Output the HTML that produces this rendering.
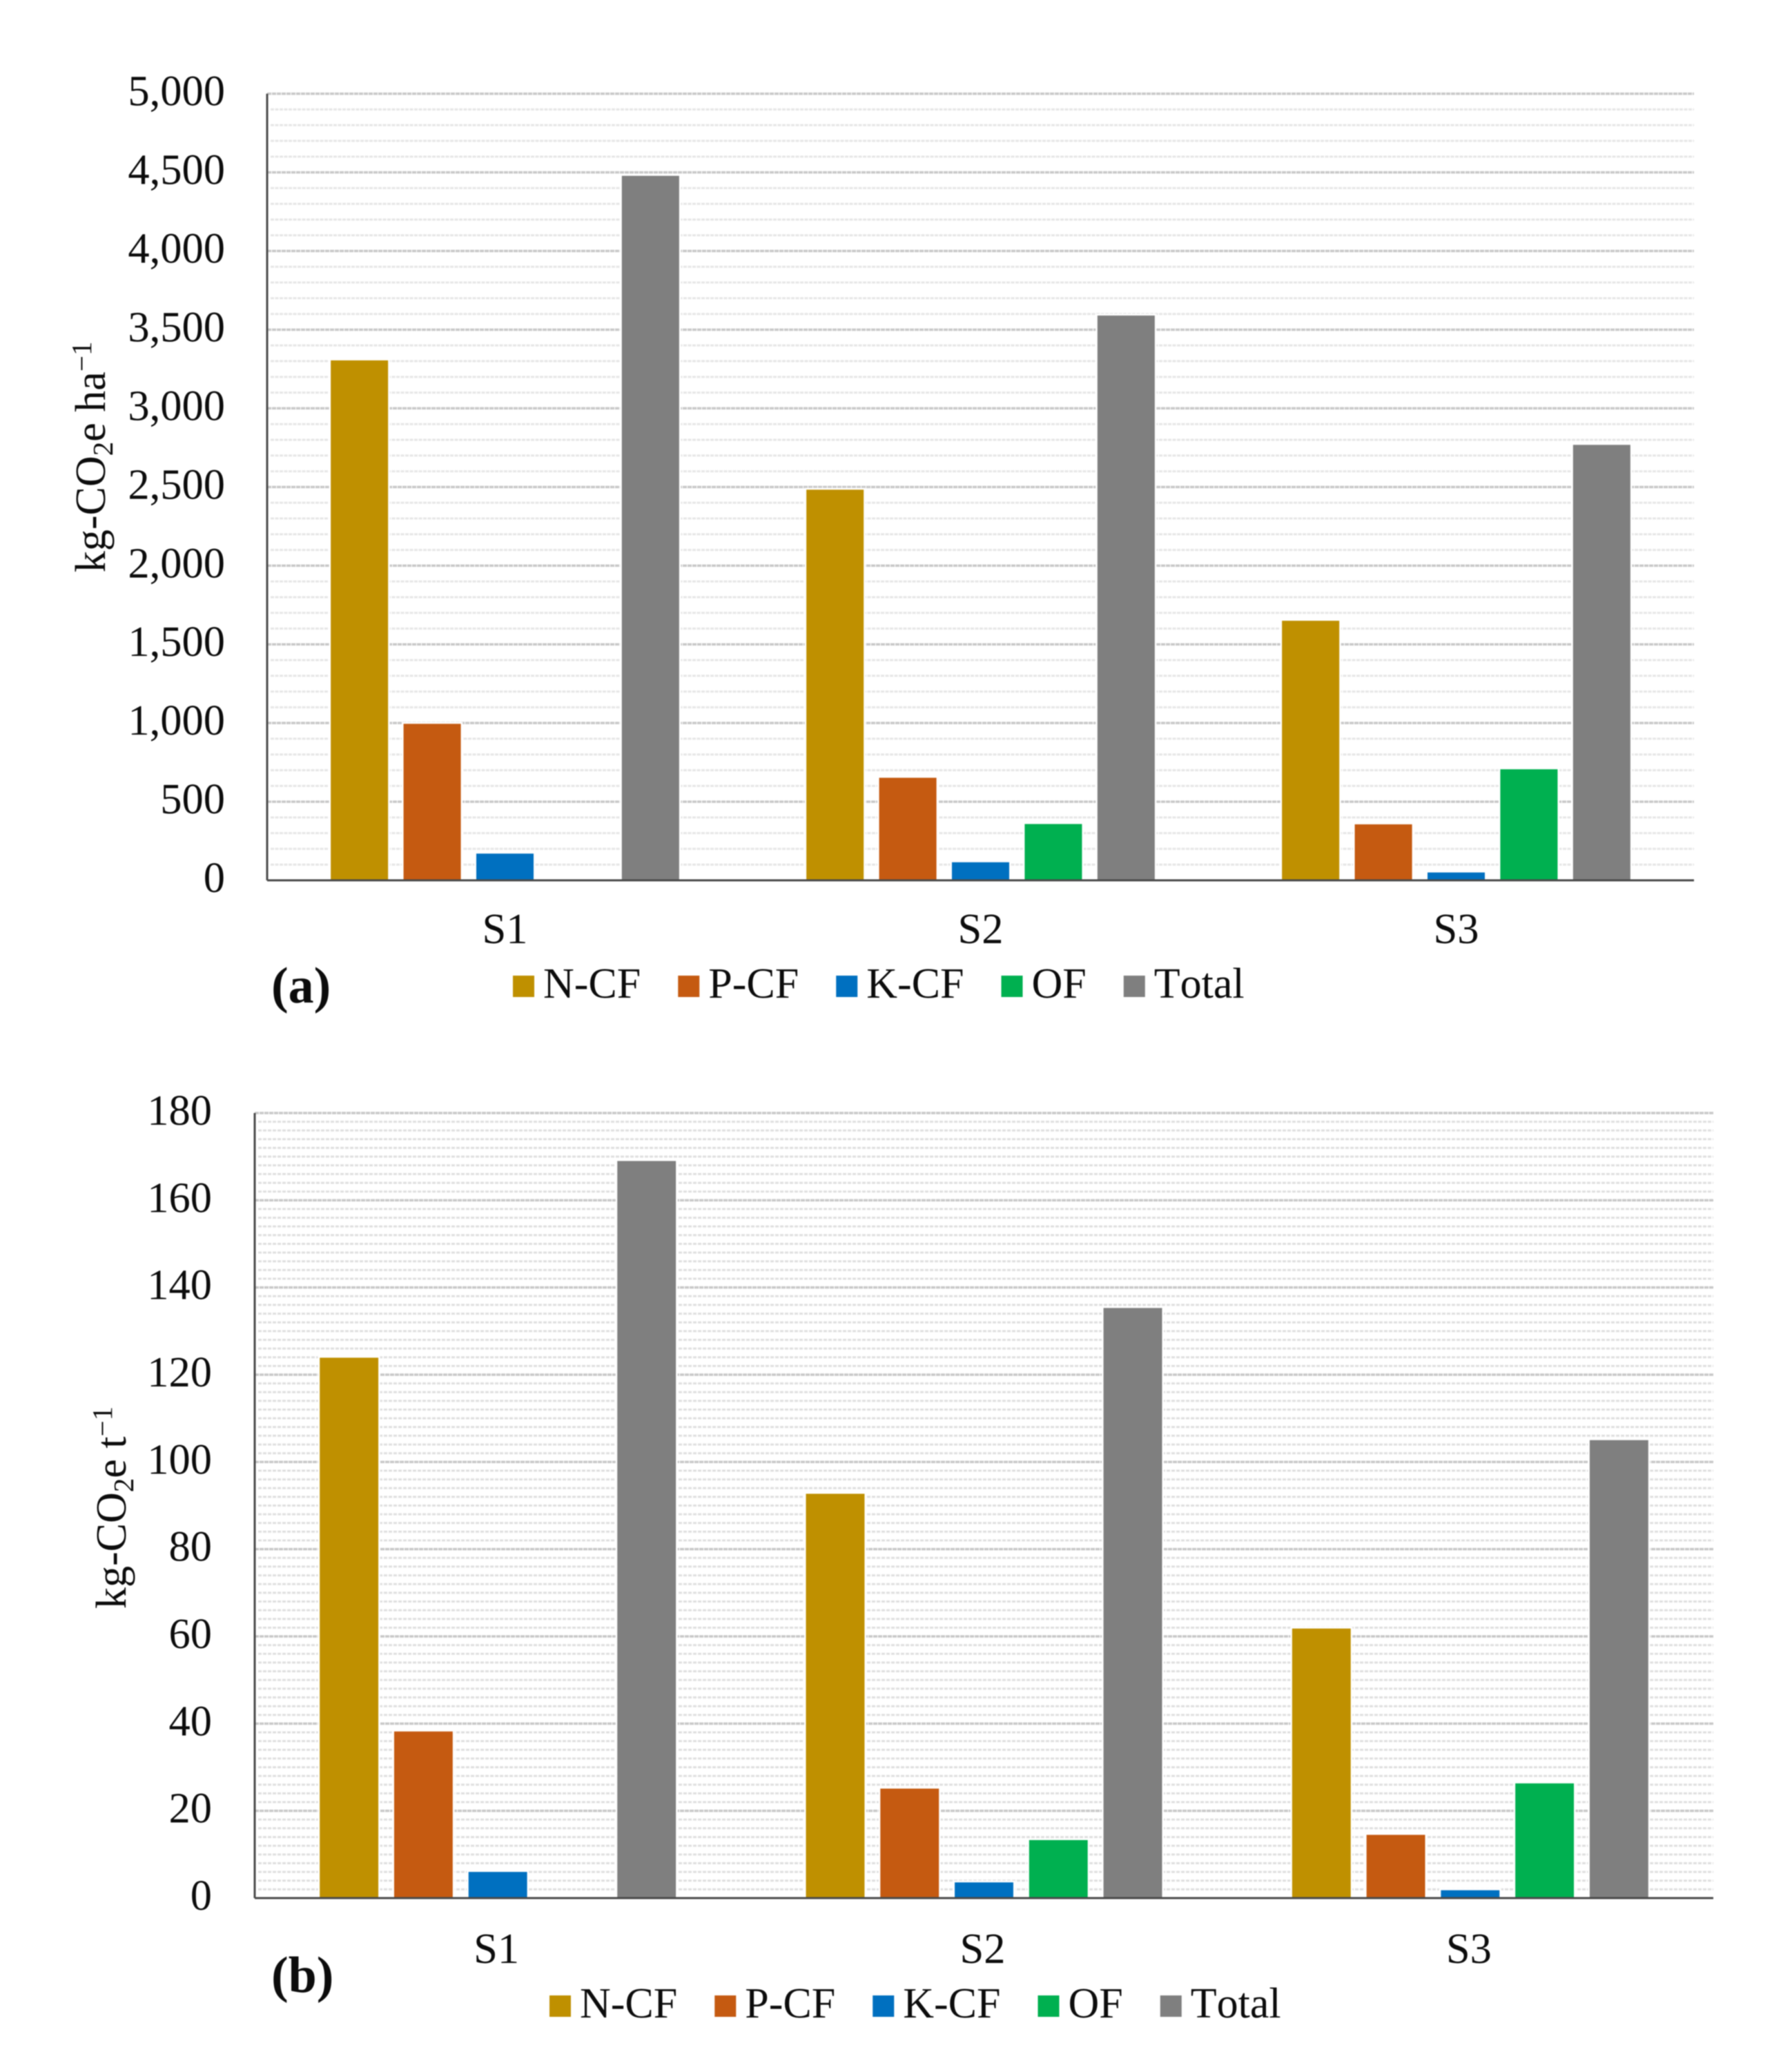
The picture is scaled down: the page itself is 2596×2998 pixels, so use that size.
<!DOCTYPE html>
<html lang="en">
<head>
<meta charset="utf-8">
<title>Carbon footprint by scenario</title>
<style>
  html, body { margin: 0; padding: 0; background: #fff; }
  body { width: 2596px; height: 2998px; overflow: hidden; }
  #figure { display: block; filter: blur(0.8px); }
  text { font-family: "Liberation Serif", serif; fill: #0c0c0c; font-kerning: none; }
  .tick { font-size: 62.5px; text-anchor: end; }
  .cat { font-size: 62.5px; text-anchor: middle; }
  .leg { font-size: 62px; }
  .panel { font-size: 74px; font-weight: bold; }
  .title { font-size: 62px; }
  .major { stroke: #c8c8c8; stroke-width: 3.5; stroke-dasharray: 6 1; }
  .minor-a { stroke: #e6e6e6; stroke-width: 3; stroke-dasharray: 5 1.5; }
  .minor-b { stroke: #dfdfdf; stroke-width: 3; stroke-dasharray: 5 2; }
  .axis { stroke: #4a4a4a; stroke-width: 3; }
  .bar { stroke: #fff; stroke-width: 5; paint-order: stroke; }
  .s-n { fill: #BF9000; }
  .s-p { fill: #C55A11; }
  .s-k { fill: #0070C0; }
  .s-of { fill: #00B050; }
  .s-total { fill: #7F7F7F; }
</style>
</head>
<body>
<svg id="figure" xmlns="http://www.w3.org/2000/svg" width="2596" height="2998" viewBox="0 0 2596 2998">
  <rect width="2596" height="2998" fill="#fff"></rect>
  <g id="panel-a"></g>
  <g id="panel-b"></g>
  <text class="title" transform="translate(152 829) rotate(-90)">kg-CO<tspan font-size="41" dy="11">2</tspan><tspan dy="-11">e ha</tspan><tspan font-size="41" dy="-20">−1</tspan></text>
  <text class="title" transform="translate(182 2330) rotate(-90)">kg-CO<tspan font-size="41" dy="11">2</tspan><tspan dy="-11">e t</tspan><tspan font-size="41" dy="-20">−1</tspan></text>
  <text class="panel" x="393" y="1452">(a)</text>
  <text class="panel" x="393" y="2885">(b)</text>
</svg>
<script>
// Shared categories and series
const categories = ["S1", "S2", "S3"];
const seriesNames = ["N-CF", "P-CF", "K-CF", "OF", "Total"];
const seriesClasses = ["s-n", "s-p", "s-k", "s-of", "s-total"];

// Chart (a): kg-CO2e per hectare
const tickLabelsA = ["0", "500", "1,000", "1,500", "2,000", "2,500", "3,000", "3,500", "4,000", "4,500", "5,000"];
const ncfA = [3305, 2483, 1650];
const pcfA = [995, 652, 356];
const kcfA = [170, 115, 50];
const ofA = [0, 358, 706];
const totalA = [4478, 3590, 2768];

// Chart (b): kg-CO2e per tonne
const tickLabelsB = ["0", "20", "40", "60", "80", "100", "120", "140", "160", "180"];
const ncfB = [123.9, 92.7, 61.8];
const pcfB = [38.2, 25.1, 14.5];
const kcfB = [6.0, 3.6, 1.8];
const ofB = [0, 13.3, 26.3];
const totalB = [169, 135.3, 105];

const NS = "http://www.w3.org/2000/svg";

function make(parent, tag, cls) {
  const el = document.createElementNS(NS, tag);
  if (cls) el.setAttribute("class", cls);
  parent.appendChild(el);
  return el;
}

function drawChart(root, series, tickLabels, minorStep, frame) {
  const tickValues = tickLabels.map(function (t) { return Number(t.replace(/,/g, "")); });
  const maxV = tickValues[tickValues.length - 1];
  const yScale = function (v) { return frame.bottom - (v / maxV) * (frame.bottom - frame.top); };
  const band = (frame.right - frame.left) / categories.length;
  const center = function (i) { return frame.left + band * (i + 0.5); };
  const barStep = band * 0.153;
  const barWidth = band * 0.1205;

  // Gridlines
  const minorCount = Math.round(maxV / minorStep);
  for (let m = 1; m <= minorCount; m++) {
    const v = m * minorStep;
    const isMajor = tickValues.indexOf(v) >= 0;
    const line = make(root, "line", isMajor ? "major" : frame.minorClass);
    
    
    line.setAttribute("x1", isMajor ? frame.left : frame.left + 5);
    line.setAttribute("x2", frame.right);
    line.setAttribute("y1", yScale(v));
    line.setAttribute("y2", yScale(v));
  }

  // Bars
  series.forEach(function (values, s) {
    values.forEach(function (v, c) {
      const bar = make(root, "rect", "bar " + seriesClasses[s]);
      
      
      bar.setAttribute("x", center(c) + (s - 2) * barStep - barWidth / 2);
      bar.setAttribute("y", yScale(v));
      bar.setAttribute("width", barWidth);
      bar.setAttribute("height", frame.bottom - yScale(v));
    });
  });

  // Axes
  const yAxis = make(root, "line", "axis");
  
  
  yAxis.setAttribute("x1", frame.left);
  yAxis.setAttribute("x2", frame.left);
  yAxis.setAttribute("y1", frame.top);
  yAxis.setAttribute("y2", frame.bottom);
  const xAxis = make(root, "line", "axis");
  
  
  xAxis.setAttribute("x1", frame.left);
  xAxis.setAttribute("x2", frame.right);
  xAxis.setAttribute("y1", frame.bottom);
  xAxis.setAttribute("y2", frame.bottom);

  // Y tick labels
  tickLabels.forEach(function (label, i) {
    const t = make(root, "text", "tick");
    
    
    t.setAttribute("x", frame.tickRight);
    t.setAttribute("y", yScale(tickValues[i]) + 17);
    t.textContent = label;
  });

  // Category labels
  categories.forEach(function (label, i) {
    const t = make(root, "text", "cat");
    
    
    t.setAttribute("x", center(i) - frame.catShift);
    t.setAttribute("y", frame.catBaseline);
    t.textContent = label;
  });

  // Legend
  let lx = frame.legendX;
  seriesNames.forEach(function (name, s) {
    const sw = make(root, "rect", seriesClasses[s]);
    
    
    sw.setAttribute("x", lx);
    sw.setAttribute("y", frame.legendBaseline - 32);
    sw.setAttribute("width", 31);
    sw.setAttribute("height", 31);
    const t = make(root, "text", "leg");
    
    
    t.setAttribute("x", lx + 44);
    t.setAttribute("y", frame.legendBaseline);
    t.textContent = name;
    lx += 44 + t.getComputedTextLength() + 54;
  });
}

drawChart(document.getElementById("panel-a"), [ncfA, pcfA, kcfA, ofA, totalA], tickLabelsA, 100, {
  left: 387, right: 2454, top: 135.7, bottom: 1275, minorClass: "minor-a",
  tickRight: 326, catBaseline: 1366, catShift: 0, legendX: 743, legendBaseline: 1445
});
drawChart(document.getElementById("panel-b"), [ncfB, pcfB, kcfB, ofB, totalB], tickLabelsB, 2, {
  left: 369, right: 2482, top: 1612, bottom: 2749, minorClass: "minor-b",
  tickRight: 307, catBaseline: 2843, catShift: 2, legendX: 796, legendBaseline: 2922
});
</script>
</body>
</html>
